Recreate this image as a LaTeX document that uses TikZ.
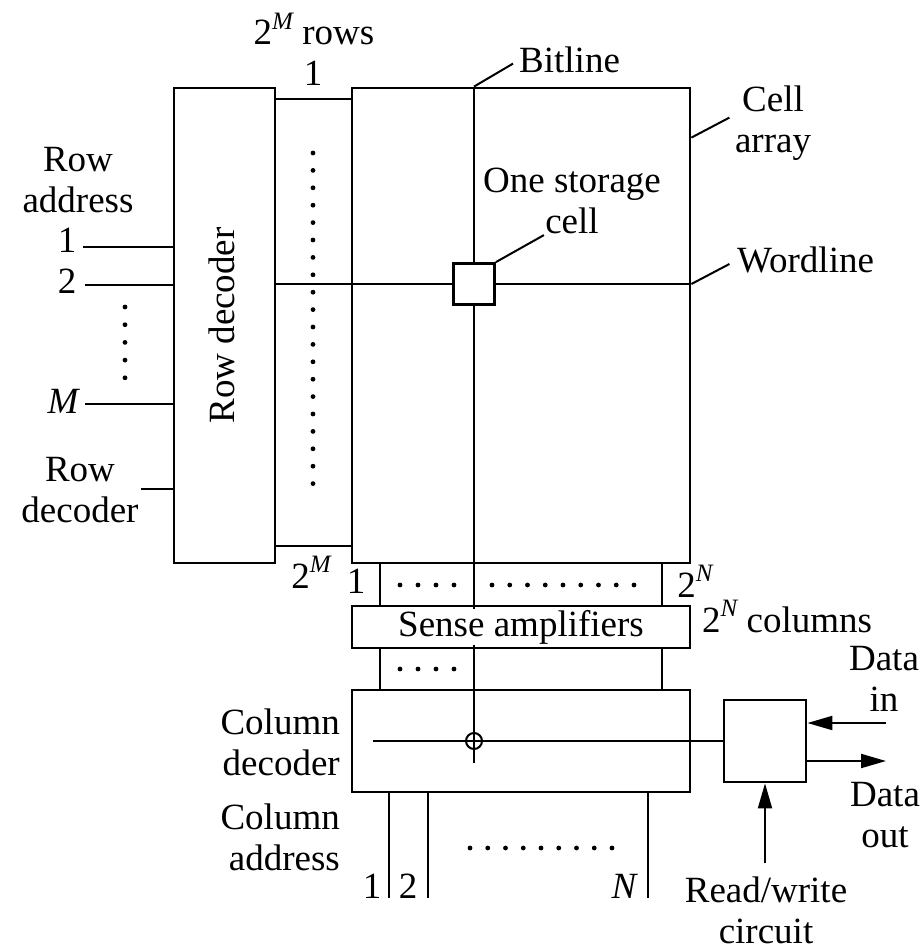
\documentclass[tikz,border=0pt]{standalone}
\usepackage{fontspec}
\setmainfont{Liberation Serif}
\usepackage{tikz}
\usetikzlibrary{arrows.meta}
\newcommand{\tothe}[1]{\raisebox{.42em}{\fontsize{25}{25}\selectfont\itshape #1}}

\begin{document}
\begin{tikzpicture}[x=1pt,y=-1pt,>={Triangle[length=25pt,width=14pt]},
    every node/.style={font=\fontsize{37}{41}\selectfont,inner sep=0pt},
    blk/.style={draw=black,line width=2.8pt},
    wire/.style={line width=2pt}]
  \useasboundingbox (0,0) rectangle (922,950);
  % blocks
  \node[blk,minimum width=101pt,minimum height=475pt] (rowdec) at (224.5,325.5) {};
  \node[blk,minimum width=338pt,minimum height=475pt] (cells) at (521,325.5) {};
  \node[blk,minimum width=338pt,minimum height=42pt] (sense) at (521,627) {};
  \node[blk,minimum width=338pt,minimum height=102pt] (coldec) at (521,741) {};
  \node[blk,minimum width=82pt,minimum height=82pt] (rw) at (765,741) {};
  % levels
  \coordinate (r1) at (0,99);
  \coordinate (rl) at (0,546);
  \coordinate (wl) at (0,284);
  \coordinate (bl) at (474,0);
  \coordinate (blend) at (474,763);
  \coordinate (cl) at (380,0);
  \coordinate (cr) at (662,0);
  \coordinate (sel) at (373,741);
  \coordinate (in1) at (83,247);
  \coordinate (in2) at (85,285);
  \coordinate (inm) at (85,404);
  \coordinate (inr) at (141,489);
  \coordinate (ca1) at (389,898);
  \coordinate (ca2) at (428,898);
  \coordinate (can) at (648,898);
  \coordinate (din) at (886,723);
  \coordinate (dout) at (886,761);
  \coordinate (rwc) at (765,863);
  % row lines, wordline, bitline
  \draw[wire] (rowdec.east |- r1) -- (cells.west |- r1);
  \draw[wire] (rowdec.east |- rl) -- (cells.west |- rl);
  \draw[wire] (rowdec.east |- wl) -- (cells.east |- wl);
  \draw[wire] (cells.north -| bl) -- (blend);
  \foreach \c in {cl,cr} {
    \draw[wire] (cells.south -| \c) -- (sense.north -| \c);
    \draw[wire] (sense.south -| \c) -- (coldec.north -| \c);
  }
  \node[blk,fill=white,minimum size=41pt] (cell) at (bl |- wl) {};
  \node[draw,circle,wire,minimum size=16pt] (mux) at (bl |- sel) {};
  \draw[wire] (sel) -- (rw.west);
  % inputs
  \foreach \p in {in1,in2,inm,inr}
    \draw[wire] (\p) -- (\p -| rowdec.west);
  \foreach \p in {ca1,ca2,can}
    \draw[wire] (\p |- coldec.south) -- (\p);
  \draw[wire,->] (din) -- (din -| rw.east);
  \draw[wire,->] (dout -| rw.east) -- (dout);
  \draw[wire,->] (rwc) -- (rw.south);
  % dots
  \foreach \i in {0,...,19}
    \fill (313,{153+17.4*\i}) circle (2.4pt);
  \foreach \i in {0,...,4}
    \fill (125,{307+17.7*\i}) circle (2.4pt);
  \foreach \i in {0,...,3} {
    \fill ({400+18*\i},585) circle (2.4pt);
    \fill ({400+18*\i},669) circle (2.4pt);
  }
  \foreach \i in {0,...,8} {
    \fill ({492+17.75*\i},585) circle (2.4pt);
    \fill ({470+17.75*\i},848) circle (2.4pt);
  }
  % leaders
  \draw[wire] (cells.north -| bl) -- ++(39,-23);
  \draw[wire] ([yshift=-51pt]cells.north east) -- ++(38,-20);
  \draw[wire] (cells.east |- wl) -- ++(38,-20);
  \draw[wire] (cell.north east) -- ++(48,-27);
  % labels (multi-line ones sit on their last line)
  \node[fill=white,inner sep=1pt] (sensetxt) at (sense.center) {Sense amplifiers};
  \node[rotate=90] (rowdectxt) at ([xshift=-3pt]rowdec.center) {Row decoder};
  \node[anchor=base] (rowsn) at (314,45) {2\tothe{M} rows};
  \node[anchor=base] (rowfirst) at (313,85) {1};
  \node[anchor=base] (rowlast) at (311,588) {2\tothe{M}};
  \node[anchor=base] (colfirst) at (356,593) {1};
  \node[anchor=base] (collast) at (695,597) {2\tothe{N}};
  \node[anchor=base west] (colsn) at (702,632) {2\tothe{N} columns};
  \node[anchor=base,align=center] (raddr) at (78,212) {Row\\address};
  \node[anchor=base] (raddr1) at (67,252) {1};
  \node[anchor=base] (raddr2) at (67,293) {2};
  \node[anchor=base] (raddrm) at (63,413) {\itshape M};
  \node[anchor=base,align=center] (rdecin) at (80,522) {Row\\decoder};
  \node[anchor=base east,align=right] (cdec) at (340,775) {Column\\decoder};
  \node[anchor=base east,align=right] (caddr) at (340,870) {Column\\address};
  \node[anchor=base] (caddr1) at (372,898) {1};
  \node[anchor=base] (caddr2) at (408,898) {2};
  \node[anchor=base] (caddrn) at (624,898) {\itshape N};
  \node[anchor=base west] (bitlbl) at (519,72) {Bitline};
  \node[anchor=base,align=center] (cellslbl) at (773,152) {Cell\\array};
  \node[anchor=base,align=center] (celllbl) at (572,233) {One storage\\cell};
  \node[anchor=base west] (wordlbl) at (737,272) {Wordline};
  \node[anchor=base,align=center] (dinlbl) at (884,711) {Data\\in};
  \node[anchor=base,align=center] (doutlbl) at (885,847) {Data\\out};
  \node[anchor=base,align=center] (rwlbl) at (766,943) {Read/write\\circuit};
\end{tikzpicture}
\end{document}
